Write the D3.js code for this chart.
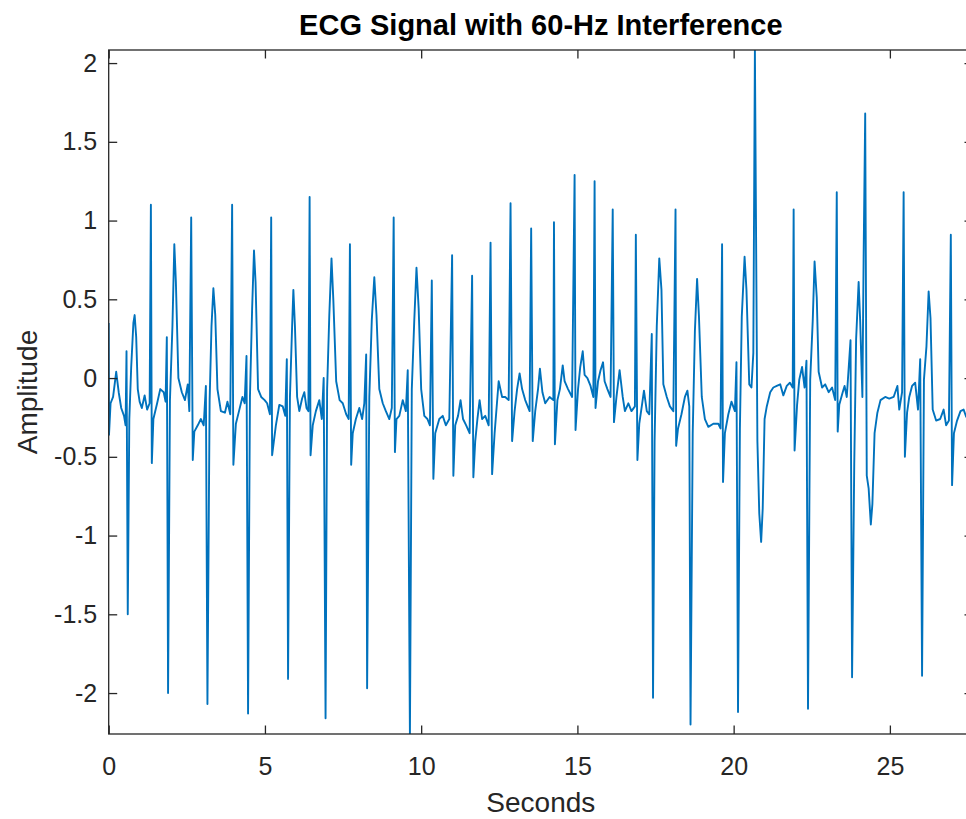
<!DOCTYPE html>
<html>
<head>
<meta charset="utf-8">
<script src="https://cdn.jsdelivr.net/npm/d3@7"></script>
<style>
  body { margin: 0; background: #fff; }
  svg { display: block; }
</style>
</head>
<body>
<svg id="chart" width="966" height="819"></svg>
<script>
// ECG trace, split in five stretches of time
const timeA = [
  0, 0.01, 0.06, 0.14, 0.24, 0.32, 0.40, 0.49, 0.54, 0.57,
  0.61, 0.66, 0.72, 0.79, 0.83, 0.88, 0.93, 0.99, 1.06, 1.15,
  1.23, 1.31, 1.35, 1.38, 1.43, 1.55, 1.65, 1.76, 1.82, 1.86,
  1.90, 1.96, 2.04, 2.10, 2.15, 2.23, 2.34, 2.44, 2.53, 2.58,
  2.64, 2.69, 2.74, 2.85, 2.95, 3.04, 3.11, 3.16, 3.23, 3.29,
  3.35, 3.41, 3.48, 3.59, 3.72, 3.80, 3.89, 3.95, 3.99, 4.07,
  4.17, 4.28, 4.35, 4.41, 4.46, 4.52, 4.59, 4.65, 4.70, 4.78,
  4.88, 4.99, 5.07, 5.16, 5.20, 5.23
];
const ampA = [
  0.35, -0.36, -0.16, -0.12, 0.04, -0.09, -0.19, -0.24, -0.30, 0.17,
  -1.50, -0.26, 0.07, 0.35, 0.40, 0.26, -0.07, -0.15, -0.19, -0.11,
  -0.20, -0.16, 1.10, -0.54, -0.26, -0.16, -0.07, -0.09, -0.15, 0.26,
  -2.00, -0.14, 0.33, 0.85, 0.61, 0.00, -0.09, -0.14, -0.04, -0.21,
  1.02, -0.52, -0.34, -0.30, -0.26, -0.30, -0.05, -2.07, -0.14, 0.33,
  0.57, 0.40, -0.07, -0.21, -0.22, -0.15, -0.23, 1.10, -0.55, -0.29,
  -0.21, -0.12, -0.16, 0.14, -2.13, -0.12, 0.44, 0.81, 0.61, -0.07,
  -0.12, -0.14, -0.16, -0.23, 1.02, -0.49
];

const timeB = [
  5.35, 5.46, 5.57, 5.65, 5.70, 5.74, 5.80, 5.87, 5.91, 5.96,
  6.03, 6.10, 6.19, 6.26, 6.33, 6.39, 6.43, 6.46, 6.53, 6.63,
  6.74, 6.82, 6.88, 6.94, 6.99, 7.06, 7.13, 7.19, 7.28, 7.39,
  7.49, 7.60, 7.68, 7.72, 7.76, 7.81, 7.91, 8.02, 8.11, 8.18,
  8.24, 8.27, 8.34, 8.42, 8.50, 8.57, 8.66, 8.77, 8.87, 8.98,
  9.06, 9.12, 9.16, 9.21, 9.30, 9.41, 9.51, 9.57, 9.64, 9.70,
  9.78, 9.85, 9.92, 10.00, 10.10, 10.20, 10.28, 10.34, 10.39, 10.45,
  10.58, 10.69, 10.79, 10.90, 10.99, 11.03
];
const ampB = [
  -0.30, -0.17, -0.18, -0.24, 0.12, -1.91, -0.12, 0.33, 0.56, 0.33,
  -0.12, -0.21, -0.13, -0.09, -0.19, -0.21, 1.15, -0.49, -0.30, -0.21,
  -0.14, -0.26, 0.00, -2.16, -0.07, 0.40, 0.76, 0.49, -0.02, -0.14,
  -0.16, -0.23, -0.26, 0.85, -0.55, -0.35, -0.26, -0.19, -0.26, -0.16,
  0.15, -1.97, -0.12, 0.37, 0.64, 0.40, -0.07, -0.16, -0.21, -0.26,
  -0.19, 1.02, -0.47, -0.26, -0.24, -0.14, -0.21, 0.05, -2.27, -0.07,
  0.37, 0.70, 0.44, -0.07, -0.24, -0.26, -0.30, 0.62, -0.64, -0.35,
  -0.26, -0.24, -0.30, -0.26, 0.78, -0.62
];

const timeC = [
  11.09, 11.18, 11.26, 11.34, 11.44, 11.55, 11.63, 11.67, 11.73, 11.80,
  11.87, 11.95, 12.05, 12.16, 12.22, 12.27, 12.35, 12.48, 12.59, 12.69,
  12.80, 12.86, 12.91, 12.99, 13.07, 13.15, 13.23, 13.33, 13.47, 13.52,
  13.57, 13.65, 13.74, 13.80, 13.88, 13.97, 14.11, 14.23, 14.25, 14.28,
  14.36, 14.44, 14.53, 14.59, 14.70, 14.83, 14.91, 14.94, 15.02, 15.09,
  15.17, 15.23, 15.32, 15.42, 15.51, 15.55, 15.58, 15.66, 15.74, 15.82,
  15.87, 15.96, 16.06, 16.13, 16.17, 16.25, 16.35
];
const ampC = [
  -0.30, -0.24, -0.14, -0.26, -0.30, -0.35, 0.65, -0.63, -0.40, -0.26,
  -0.14, -0.26, -0.24, -0.30, 0.86, -0.61, -0.35, -0.02, -0.12, -0.12,
  -0.14, 1.11, -0.40, -0.21, -0.07, 0.03, -0.07, -0.14, -0.21, 0.95,
  -0.40, -0.21, -0.07, 0.06, -0.09, -0.16, -0.12, -0.14, 0.99, -0.42,
  -0.14, -0.07, 0.08, -0.02, -0.07, -0.12, 1.29, -0.33, -0.07, 0.07,
  0.17, 0.02, 0.00, -0.05, -0.12, 1.25, -0.19, -0.02, 0.05, 0.10,
  -0.02, -0.07, -0.12, 1.07, -0.28, -0.12, 0.05
];

const timeD = [
  16.45, 16.52, 16.63, 16.73, 16.84, 16.87, 16.92, 16.98, 17.06, 17.13,
  17.22, 17.30, 17.38, 17.42, 17.47, 17.54, 17.62, 17.69, 17.75, 17.86,
  17.96, 18.07, 18.14, 18.16, 18.22, 18.33, 18.44, 18.52, 18.58, 18.62,
  18.69, 18.76, 18.83, 18.89, 18.98, 19.08, 19.19, 19.35, 19.51, 19.58,
  19.63, 19.66, 19.72, 19.83, 19.93, 20.04, 20.09, 20.14, 20.20, 20.26,
  20.35, 20.41, 20.50, 20.57, 20.63, 20.68, 20.76, 20.82, 20.88, 20.93,
  20.99, 21.06, 21.17, 21.27, 21.38, 21.49, 21.59, 21.70, 21.80, 21.89,
  21.92, 21.95
];
const ampD = [
  -0.12, -0.21, -0.16, -0.21, -0.18, 0.91, -0.52, -0.29, -0.18, -0.08,
  -0.21, -0.23, 0.28, -2.03, -0.40, 0.33, 0.76, 0.56, -0.04, -0.12,
  -0.18, -0.21, 1.07, -0.43, -0.32, -0.23, -0.12, -0.08, -0.18, -2.20,
  -0.35, 0.30, 0.63, 0.39, -0.12, -0.26, -0.31, -0.29, -0.29, -0.32,
  0.85, -0.66, -0.35, -0.23, -0.15, -0.21, 0.10, -2.12, -0.32, 0.39,
  0.77, 0.56, -0.04, -0.06, 0.16, 2.09, -0.40, -0.86, -1.04, -0.83,
  -0.26, -0.18, -0.09, -0.06, -0.05, -0.04, -0.11, -0.05, -0.03, -0.06,
  1.07, -0.46
];

const timeE = [
  22.03, 22.10, 22.19, 22.27, 22.33, 22.38, 22.45, 22.53, 22.59, 22.66,
  22.72, 22.83, 22.93, 23.04, 23.15, 23.25, 23.30, 23.33, 23.38, 23.49,
  23.55, 23.62, 23.74, 23.79, 23.86, 23.92, 24.00, 24.05, 24.12, 24.16,
  24.21, 24.26, 24.32, 24.39, 24.44, 24.51, 24.60, 24.70, 24.85, 24.98,
  25.12, 25.24, 25.30, 25.39, 25.44, 25.48, 25.55, 25.62, 25.71, 25.81,
  25.90, 25.97, 26.03, 26.09, 26.17, 26.24, 26.30, 26.37, 26.48, 26.61,
  26.72, 26.80, 26.89, 26.95, 26.99, 27.05, 27.15, 27.26, 27.36, 27.45
];
const ampE = [
  -0.17, -0.01, 0.07, -0.06, 0.11, -2.10, -0.01, 0.36, 0.74, 0.51,
  0.04, -0.06, -0.04, -0.09, -0.06, -0.14, 1.18, -0.34, -0.17, -0.09,
  -0.05, -0.12, 0.24, -1.90, -0.54, 0.25, 0.61, 0.36, -0.12, 0.78,
  1.68, -0.62, -0.70, -0.93, -0.80, -0.35, -0.22, -0.14, -0.12, -0.13,
  -0.12, -0.05, -0.20, -0.09, 1.18, -0.50, -0.22, -0.12, -0.05, -0.03,
  -0.20, 0.12, -1.89, -0.01, 0.20, 0.55, 0.38, -0.20, -0.27, -0.26,
  -0.20, -0.30, -0.27, 0.91, -0.68, -0.35, -0.27, -0.21, -0.20, -0.25
];

const xTicks = [0, 5, 10, 15, 20, 25];
const yTicks = [-2, -1.5, -1, -0.5, 0, 0.5, 1, 1.5, 2];
const xLimits = [0, 27.66];
const yLimits = [-2.26, 2.083];

const seconds = [...timeA, ...timeB, ...timeC, ...timeD, ...timeE];
const amplitude = [...ampA, ...ampB, ...ampC, ...ampD, ...ampE];
const points = d3.zip(seconds, amplitude);

const fontFamily = '"Liberation Sans", Arial, Helvetica, sans-serif';
const axisColor = "#262626";
const lineColor = "#0072bd";
const tickLen = 8.5;

const plot = { left: 108.7, right: 973, top: 50, bottom: 734 };

const x = d3.scaleLinear().domain(xLimits).range([plot.left, plot.right]);
const y = d3.scaleLinear().domain(yLimits).range([plot.bottom, plot.top]);

const svg = d3.select("#chart").attr("font-family", fontFamily);

svg
  .append("defs")
  .append("clipPath")
  .attr("id", "plot-clip")
  .append("rect")
  .attr("x", plot.left)
  .attr("y", plot.top)
  .attr("width", plot.right - plot.left)
  .attr("height", plot.bottom - plot.top);

const line = d3
  .line()
  .x(d => x(d[0]))
  .y(d => y(d[1]));

svg
  .append("path")
  .datum(points)
  .attr("clip-path", "url(#plot-clip)")
  .attr("fill", "none")
  .attr("stroke", lineColor)
  .attr("stroke-width", 1.9)
  .attr("stroke-linejoin", "round")
  .attr("d", line);

const styleAxis = g => {
  g.select(".domain").remove();
  g.attr("font-family", fontFamily).attr("font-size", 25);
  g.selectAll(".tick line").attr("stroke", axisColor).attr("stroke-width", 1.3);
  g.selectAll(".tick text").attr("fill", axisColor);
};

// bottom + left with labels
svg
  .append("g")
  .attr("transform", `translate(0,${plot.bottom})`)
  .call(
    d3.axisBottom(x).tickValues(xTicks).tickSize(-tickLen).tickPadding(23).tickFormat(d => String(d))
  )
  .call(styleAxis);

svg
  .append("g")
  .attr("transform", `translate(${plot.left},0)`)
  .call(
    d3.axisLeft(y).tickValues(yTicks).tickSize(-tickLen).tickPadding(11.5).tickFormat(d => String(d))
  )
  .call(styleAxis);

// mirrored ticks on top and right (box on)
svg
  .append("g")
  .attr("transform", `translate(0,${plot.top})`)
  .call(d3.axisTop(x).tickValues(xTicks).tickSize(-tickLen).tickFormat(""))
  .call(styleAxis);

svg
  .append("g")
  .attr("transform", `translate(${plot.right},0)`)
  .call(d3.axisRight(y).tickValues(yTicks).tickSize(-tickLen).tickFormat(""))
  .call(styleAxis);

svg
  .append("rect")
  .attr("x", plot.left)
  .attr("y", plot.top)
  .attr("width", plot.right - plot.left)
  .attr("height", plot.bottom - plot.top)
  .attr("fill", "none")
  .attr("stroke", axisColor)
  .attr("stroke-width", 1.3);

svg
  .append("text")
  .attr("x", (plot.left + plot.right) / 2)
  .attr("y", 35)
  .attr("text-anchor", "middle")
  .attr("font-size", 29)
  .attr("font-weight", "bold")
  .attr("fill", "#000")
  .text("ECG Signal with 60-Hz Interference");

svg
  .append("text")
  .attr("x", (plot.left + plot.right) / 2)
  .attr("y", 812)
  .attr("text-anchor", "middle")
  .attr("font-size", 28)
  .attr("fill", axisColor)
  .text("Seconds");

svg
  .append("text")
  .attr("transform", `translate(37,${(plot.top + plot.bottom) / 2}) rotate(-90)`)
  .attr("text-anchor", "middle")
  .attr("font-size", 28)
  .attr("fill", axisColor)
  .text("Amplitude");
</script>
</body>
</html>
